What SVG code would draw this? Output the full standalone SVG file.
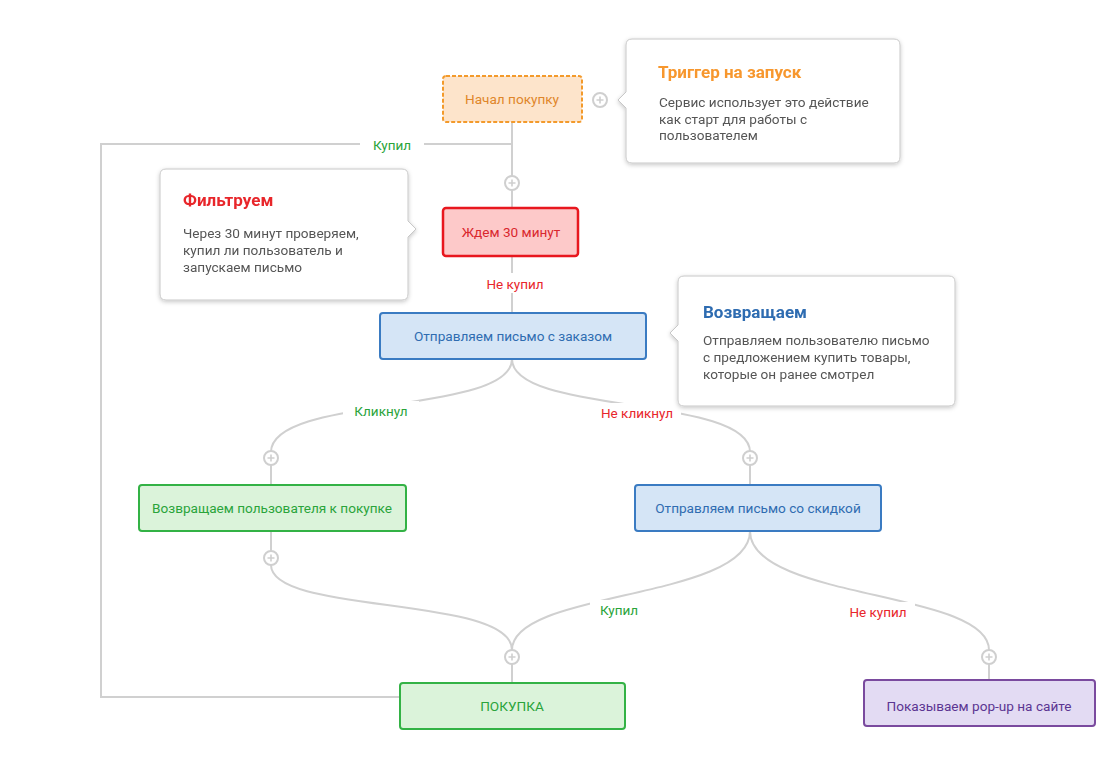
<svg xmlns="http://www.w3.org/2000/svg" width="1100" height="760" viewBox="0 0 1100 760">
<defs>
<filter id="sh" x="-10%" y="-10%" width="120%" height="130%">
<feDropShadow dx="0" dy="1.5" stdDeviation="2" flood-color="#000" flood-opacity="0.22"/>
</filter>
<g id="plus">
<circle cx="0" cy="0" r="7" fill="#fff" stroke="#cfcfcf" stroke-width="2"/>
<path d="M-3.5,0 H3.5 M0,-3.5 V3.5" stroke="#cfcfcf" stroke-width="1.6"/>
</g>
</defs>
<style>
text{font-family:Roboto,"Liberation Sans",sans-serif}
.conn{fill:none;stroke:#d0d0d0;stroke-width:2}
.node{font-size:13.6px;text-anchor:middle}
.lbl{font-size:13.5px;text-anchor:middle}
.tip{fill:#fff;stroke:#c8c8c8;stroke-width:1}
.tt{font-size:17px;font-weight:bold}
.tb{font-size:13.6px;fill:#555}
.g{fill:#2aa43a}
.r{fill:#e8262b}
</style>
<rect width="1100" height="760" fill="#fff"/>

<g id="connectors">
<path class="conn" d="M512,122 V208"/>
<path class="conn" d="M512,144 H101 V697 H400"/>
<path class="conn" d="M512,256 V313"/>
<path class="conn" d="M512,359 C512,415 271,395 271,452"/>
<path class="conn" d="M512,359 C512,415 750,395 750,452"/>
<path class="conn" d="M271,465 V485"/>
<path class="conn" d="M750,465 V485"/>
<path class="conn" d="M271,531 V551"/>
<path class="conn" d="M271,565 C271,615 512,595 512,650"/>
<path class="conn" d="M750,531 C750,600 512,590 512,650"/>
<path class="conn" d="M750,531 C750,600 989,590 989,650"/>
<path class="conn" d="M512,664 V683"/>
<path class="conn" d="M989,664 V680"/>
<use href="#plus" x="600" y="100"/>
<use href="#plus" x="512" y="183"/>
<use href="#plus" x="271" y="458"/>
<use href="#plus" x="750" y="458"/>
<use href="#plus" x="271" y="558"/>
<use href="#plus" x="512" y="657"/>
<use href="#plus" x="989" y="657"/>
<rect x="360" y="135" width="64" height="20" fill="#fff"/>
<text class="lbl g" x="392" y="150">Купил</text>
<rect x="478" y="273" width="74" height="20" fill="#fff"/>
<text class="lbl r" x="515" y="289">Не купил</text>
<rect x="343" y="401" width="76" height="20" fill="#fff"/>
<text class="lbl g" x="381" y="416">Кликнул</text>
<rect x="593" y="403" width="88" height="20" fill="#fff"/>
<text class="lbl r" x="637" y="418">Не кликнул</text>
<rect x="590" y="600" width="60" height="20" fill="#fff"/>
<text class="lbl g" x="619" y="615">Купил</text>
<rect x="841" y="602" width="74" height="20" fill="#fff"/>
<text class="lbl r" x="878" y="617">Не купил</text>
</g>

<g id="n-start">
<rect x="443" y="76" width="139" height="46" rx="3" fill="#fde4cb" stroke="#f39a2b" stroke-width="2" stroke-dasharray="4,2"/>
<text class="node" x="512" y="104" fill="#e0862a">Начал покупку</text>
</g>
<g id="n-wait">
<rect x="443" y="208" width="135" height="48" rx="3" fill="#fdc9c9" stroke="#e8171e" stroke-width="2.5"/>
<text class="node" x="511" y="237" fill="#d9272d">Ждем 30 минут</text>
</g>
<g id="n-order">
<rect x="380" y="313" width="266" height="46" rx="3" fill="#d5e5f6" stroke="#3a7bc2" stroke-width="2"/>
<text class="node" x="513" y="341" fill="#2f6cb1">Отправляем письмо с заказом</text>
</g>
<g id="n-return">
<rect x="139" y="485" width="267" height="46" rx="3" fill="#dbf3da" stroke="#33b245" stroke-width="2"/>
<text class="node" x="272" y="513" fill="#2aa43a">Возвращаем пользователя к покупке</text>
</g>
<g id="n-discount">
<rect x="635" y="485" width="246" height="46" rx="3" fill="#d5e5f6" stroke="#3a7bc2" stroke-width="2"/>
<text class="node" x="758" y="513" fill="#2f6cb1">Отправляем письмо со скидкой</text>
</g>
<g id="n-buy">
<rect x="400" y="683" width="225" height="46" rx="3" fill="#dbf3da" stroke="#33b245" stroke-width="2"/>
<text class="node" x="512" y="711" fill="#2aa43a">ПОКУПКА</text>
</g>
<g id="n-popup">
<rect x="864" y="680" width="231" height="46" rx="3" fill="#e3dbf3" stroke="#7a4a9e" stroke-width="2"/>
<text class="node" x="979" y="711" fill="#5b3592">Показываем pop-up на сайте</text>
</g>

<g id="tip-trigger" filter="url(#sh)">
<path class="tip" d="M632,39 H894 Q900,39 900,45 V157 Q900,163 894,163 H632 Q626,163 626,157 V108 L618,100 L626,92 V45 Q626,39 632,39 Z"/>
<text class="tt" x="658" y="78" fill="#f7972d">Триггер на запуск</text>
<text class="tb" x="659" y="107">Сервис использует это действие</text>
<text class="tb" x="659" y="124">как старт для работы с</text>
<text class="tb" x="659" y="140">пользователем</text>
</g>
<g id="tip-filter" filter="url(#sh)">
<path class="tip" d="M166,169 H402 Q408,169 408,175 V221 L416,229 L408,237 V294 Q408,300 402,300 H166 Q160,300 160,294 V175 Q160,169 166,169 Z"/>
<text class="tt" x="183" y="206" fill="#e8262b">Фильтруем</text>
<text class="tb" x="183" y="238">Через 30 минут проверяем,</text>
<text class="tb" x="183" y="255">купил ли пользователь и</text>
<text class="tb" x="183" y="272">запускаем письмо</text>
</g>
<g id="tip-return" filter="url(#sh)">
<path class="tip" d="M684,276 H949 Q955,276 955,282 V400 Q955,406 949,406 H684 Q678,406 678,400 V341 L670,333 L678,325 V282 Q678,276 684,276 Z"/>
<text class="tt" x="703" y="318" fill="#2f6cb1">Возвращаем</text>
<text class="tb" x="703" y="345">Отправляем пользователю письмо</text>
<text class="tb" x="703" y="362">с предложением купить товары,</text>
<text class="tb" x="703" y="379">которые он ранее смотрел</text>
</g>
</svg>
